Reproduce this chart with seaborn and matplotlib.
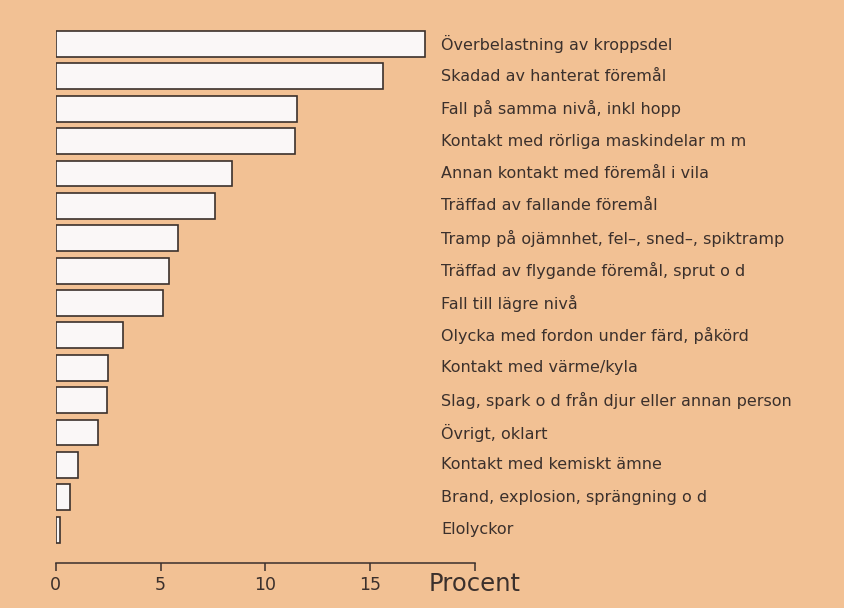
import pandas as pd
import matplotlib
matplotlib.use('Agg')
import matplotlib.pyplot as plt
import seaborn as sns

categories = [
    'Överbelastning av kroppsdel',
    'Skadad av hanterat föremål',
    'Fall på samma nivå, inkl hopp',
    'Kontakt med rörliga maskindelar m m',
    'Annan kontakt med föremål i vila',
    'Träffad av fallande föremål',
    'Tramp på ojämnhet, fel–, sned–, spiktramp',
    'Träffad av flygande föremål, sprut o d',
    'Fall till lägre nivå',
    'Olycka med fordon under färd, påkörd',
    'Kontakt med värme/kyla',
    'Slag, spark o d från djur eller annan person',
    'Övrigt, oklart',
    'Kontakt med kemiskt ämne',
    'Brand, explosion, sprängning o d',
    'Elolyckor',
]
procent = [17.6, 15.6, 11.5, 11.4, 8.4, 7.6, 5.85, 5.4, 5.1, 3.2, 2.5, 2.45, 2.0, 1.05, 0.7, 0.2]
tick_values = [0, 5, 10, 15, 20]
tick_labels = ['0', '5', '10', '15', '']

df = pd.DataFrame({'Orsak': categories, 'Procent': procent})

bg = '#f2c194'
ink = '#3b302c'

sns.set_style('white')
plt.rcParams['font.family'] = ['DejaVu Sans']

fig = plt.figure(figsize=(8.45, 6.08), dpi=100, facecolor=bg)
ax = fig.add_axes([0.066, 0.074, 0.496, 0.926])
ax.set_facecolor(bg)

sns.barplot(data=df, y='Orsak', x='Procent', orient='h', color='#faf7f6',
            edgecolor=ink, linewidth=1.2, width=0.8, ax=ax)

ax.set_xlim(0, 20)
ax.set_ylim(16.03, -1.36)
ax.set_yticks([])
ax.set_ylabel('')
ax.set_xlabel('')
ax.set_xticks(tick_values)
ax.set_xticklabels(tick_labels, fontsize=12.5, color=ink)
ax.tick_params(axis='x', bottom=True, direction='out', length=6, width=1.1,
               color=ink, pad=3)

for s in ['top', 'right', 'left']:
    ax.spines[s].set_visible(False)
ax.spines['bottom'].set_color(ink)
ax.spines['bottom'].set_linewidth(1.1)

for i, lab in enumerate(categories):
    ax.text(18.4, i, lab, ha='left', va='center', fontsize=11.5,
            color=ink, clip_on=False)

ax.text(17.8, 16.03 + 0.66, 'Procent', ha='left', va='center',
        fontsize=17.5, color=ink, clip_on=False)

fig.savefig('out.png', dpi=100, facecolor=bg)
